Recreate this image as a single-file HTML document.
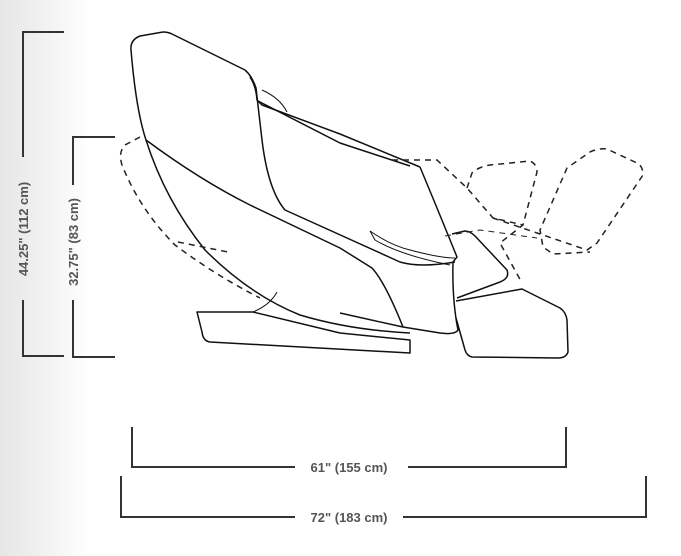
<!DOCTYPE html>
<html><head><style>
html,body{margin:0;padding:0;}
body{width:681px;height:556px;overflow:hidden;background:linear-gradient(to right,#e6e6e6 0px,#f3f3f3 50px,#fff 90px);position:relative;font-family:"Liberation Sans",sans-serif;}
svg{position:absolute;left:0;top:0;}
</style></head><body>
<svg width="681" height="556" viewBox="0 0 681 556">
<g fill="none" stroke="#333" stroke-width="2">
<path d="M64 32 H23 V157"/><path d="M23 300 V356 H64"/>
<path d="M115 137 H73 V185"/><path d="M73 300 V357 H115"/>
<path d="M132 427 V467 H295"/><path d="M408 467 H566 V427"/>
<path d="M121 476 V517 H295"/><path d="M403 517 H646 V476"/>
</g>
<g fill="#555" font-weight="bold" font-size="13">
<text x="349" y="472" text-anchor="middle">61" (155 cm)</text>
<text x="349" y="522" text-anchor="middle">72" (183 cm)</text>
<text transform="translate(28,229) rotate(-90)" text-anchor="middle">44.25" (112 cm)</text>
<text transform="translate(78,242) rotate(-90)" text-anchor="middle">32.75" (83 cm)</text>
</g>
<g fill="none" stroke="#111" stroke-width="1.5" stroke-linejoin="round">
<path d="M163 32 L140 36 Q130 40 131 50 Q136 110 146 140 Q165 200 205 250 Q250 295 300 315 Q350 330 410 333"/>
<path d="M163 32 Q168 32 172 34 L245 70 Q252 76 256 88 L262 140 Q268 190 285 210 L400 262 Q420 268 455 262"/>
<path d="M146 140 Q200 180 250 205 L340 248 L372 268 Q385 282 403 327"/>
<path d="M250 77 Q256 86 257 100 L262 105 L340 134 L420 167"/>
<path d="M262 90 Q280 98 287 112" stroke-width="1"/>
<path d="M258 101 L340 143 L410 166"/>
<path d="M420 167 Q440 215 457 257 L453 262 Q452 300 458 330 Q455 335 440 333 L403 327 L340 313"/>
<path d="M370 231 Q390 245 410 250 Q440 258 455 258" stroke-width="1"/>
<path d="M370 231 L375 240 Q400 255 450 265" stroke-width="1"/>
<path d="M452 234 L465 231 Q470 231 475 236 L507 270 Q510 278 500 282 L457 298"/>
<path d="M456 301 L522 289 L560 308 Q566 312 567 320 L568 352 Q566 358 558 358 L472 357 Q467 356 465 350 L456 318"/>
<path d="M197 312 L253 312 L340 333 L410 340 L410 353 L210 342 Q203 341 202 332 Z"/>
<path d="M253 312 Q270 305 277 292" stroke-width="1"/>
</g>
<g fill="none" stroke="#222" stroke-width="1.5" stroke-dasharray="6,5">
<path d="M140 137 L125 145 Q118 152 122 165 Q140 210 175 245 Q215 275 260 298"/>
<path d="M178 242 L228 252"/>
<path d="M392 160 L437 160 L467 188 L493 218 L523 225"/>
<path d="M467 188 L472 173 Q478 167 490 165 L530 161 Q537 164 537 172 L523 225 L500 243 L522 283"/>
<path d="M493 218 L587 250 L597 243 L643 175 Q643 166 637 163 L607 149 Q598 148 590 152 L567 168 L540 230 L543 247 L553 254 L590 252"/>
<path d="M445 236 L480 230 L537 238" stroke-width="1"/>
</g>
</svg>
</body></html>
